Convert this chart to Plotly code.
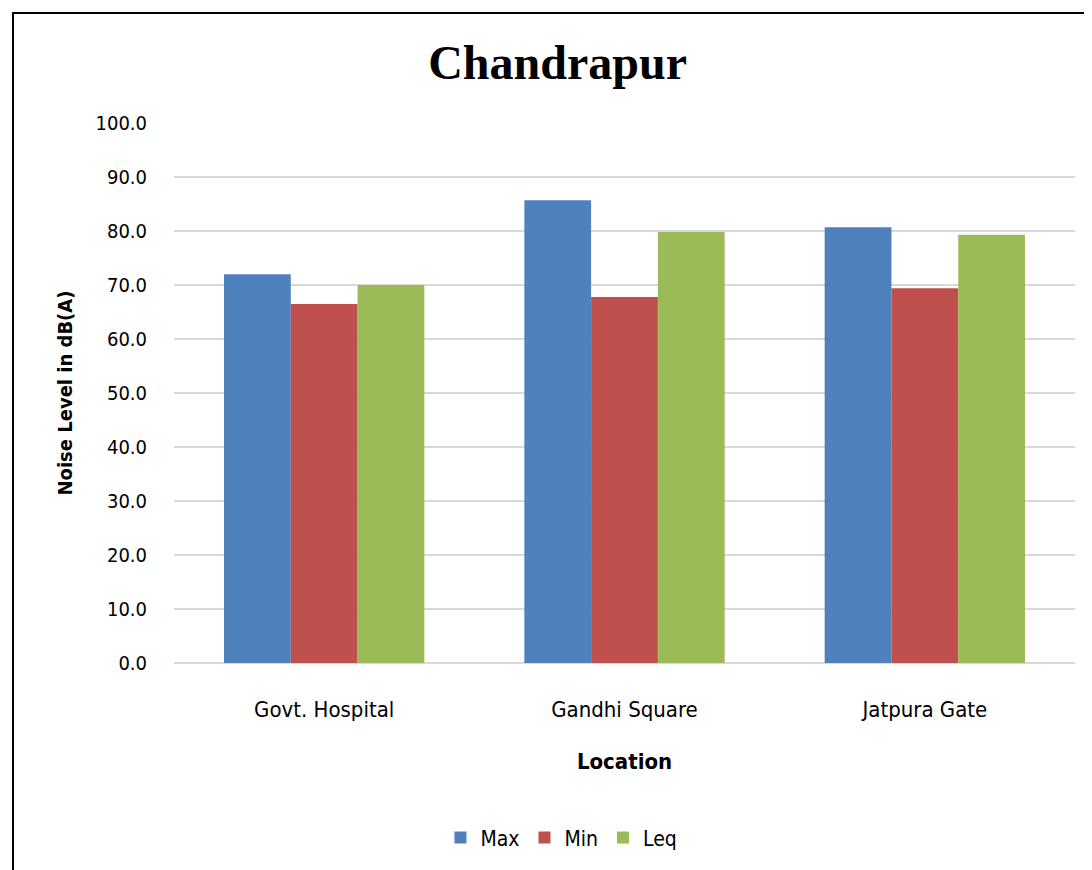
import plotly.graph_objects as go

locations = ["Govt. Hospital", "Gandhi Square", "Jatpura Gate"]
max_vals = [72.0, 85.7, 80.7]
min_vals = [66.5, 67.8, 69.4]
leq_vals = [70.0, 79.8, 79.3]
series_names = ["Max", "Min", "Leq"]
colors = ["#4F81BD", "#C0504D", "#9BBB59"]
y_ticks = [0, 10, 20, 30, 40, 50, 60, 70, 80, 90, 100]

FONT = "DejaVu Sans Condensed, Liberation Sans Narrow, Arial Narrow, sans-serif"

fig = go.Figure()
for name, vals, col in zip(series_names, [max_vals, min_vals, leq_vals], colors):
    fig.add_trace(go.Bar(x=locations, y=vals, name=name, marker=dict(color=col, line=dict(width=0))))

fig.update_layout(
    width=1084, height=862,
    paper_bgcolor="white", plot_bgcolor="white",
    margin=dict(l=166, r=17, t=115, b=207),
    barmode="group", bargap=0.333, bargroupgap=0,
    title=dict(text="<b>Chandrapur</b>", x=0.507, xanchor="center", y=0.937, yanchor="middle",
               font=dict(family="Liberation Serif, Times New Roman, serif", size=48, color="black")),
    font=dict(family=FONT, color="black"),
    legend=dict(orientation="h", x=0.43, xanchor="center", y=-0.324, yanchor="middle",
                font=dict(size=21, family=FONT), itemwidth=30, traceorder="normal"),
    xaxis=dict(showgrid=False, showline=False, ticks="", tickfont=dict(size=22),
               ticklabelstandoff=31, automargin=False,
               title=dict(text="<b>Location</b>", font=dict(size=22), standoff=32)),
    yaxis=dict(range=[0, 100], tickvals=y_ticks, tickformat=".1f", showgrid=True,
               gridcolor="#D9D9D9", gridwidth=1.5, zeroline=True, zerolinecolor="#D9D9D9",
               zerolinewidth=1.5, showline=False, ticks="", tickfont=dict(size=20),
               ticklabelstandoff=26, automargin=False,
               title=dict(text="<b>Noise Level in dB(A)</b>", font=dict(size=20), standoff=17)),
)

# chart-area border
fig.add_shape(type="rect", xref="paper", yref="paper",
              x0=(5 - 166) / 901, x1=(1100 - 166) / 901,
              y0=(655 - 880) / 540, y1=(655 - 5) / 540,
              line=dict(color="black", width=2), fillcolor="rgba(0,0,0,0)", layer="below")

fig.write_html("out.html")
